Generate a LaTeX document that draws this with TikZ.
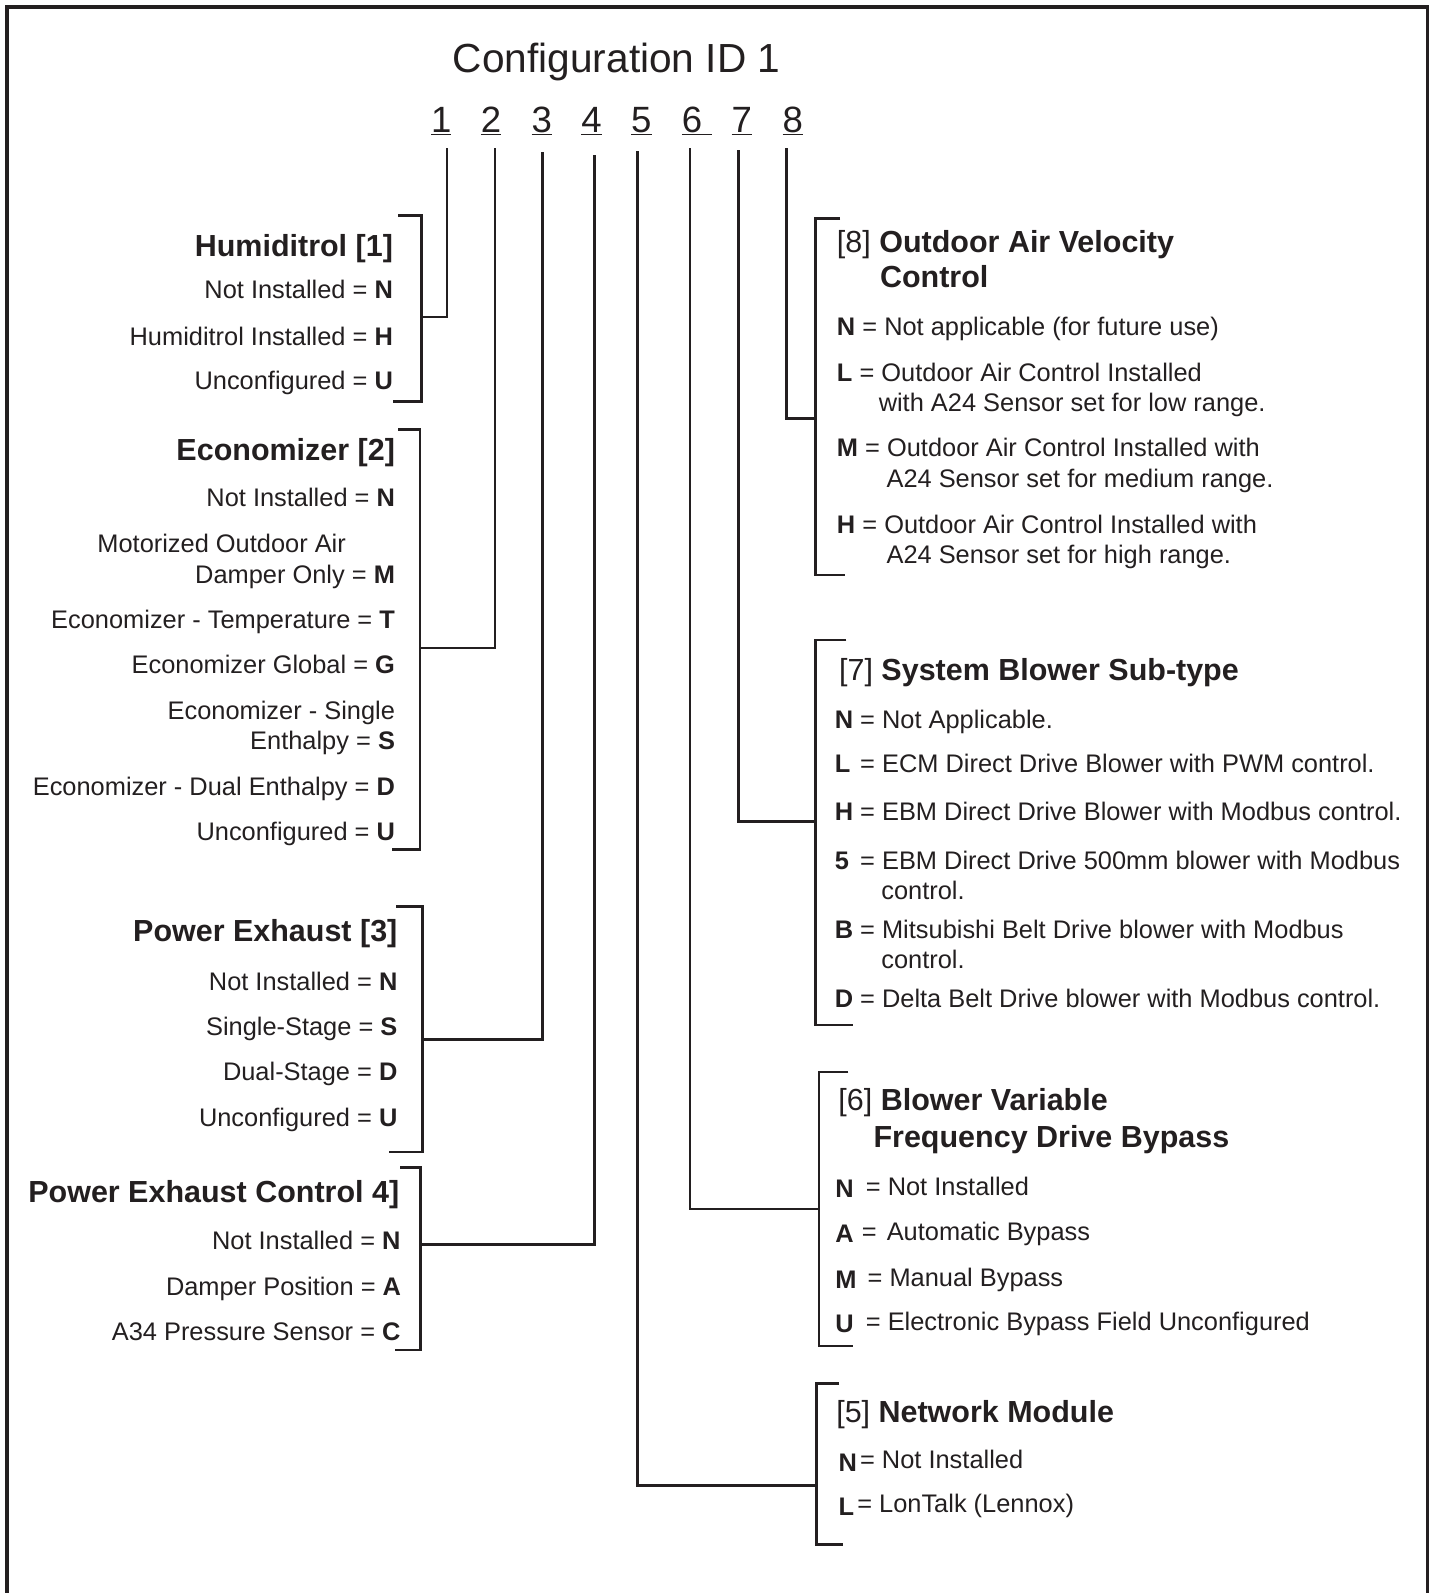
\documentclass[tikz,border=0pt]{standalone}
\usepackage{fontspec}
\setmainfont{Liberation Sans}
\definecolor{ink}{RGB}{35,31,32}
\newcommand{\optkey}[1]{\makebox[18pt][l]{\textbf{#1}}}
\begin{document}
\begin{tikzpicture}[x=1pt,y=-1pt,line width=2.5pt,color=ink,
	opt/.style={font=\fontsize{25}{30}\selectfont,inner sep=0pt,text=ink},
	optl/.style={opt,anchor=base east},
	optr/.style={opt,anchor=base west},
	grp/.style={font=\fontsize{30}{36}\selectfont\bfseries,inner sep=0pt,text=ink},
	grpl/.style={grp,anchor=base east},
	grpr/.style={grp,anchor=base west},
	digit/.style={font=\fontsize{36}{40}\selectfont,inner sep=0pt,anchor=base west,text=ink}]
				\useasboundingbox (0,0) rectangle (1410,1568);
				\draw[line width=3.5pt] (7,1568)--(7,7)--(1405,7)--(1405,1568);
				\node[digit,font=\fontsize{40}{44}\selectfont] (title) at (444.5,71.5) {Configuration ID 1};
				% digit positions
				\node[digit] (d1) at (423,130.6) {\underline{1}};
				\node[digit] (d2) at (472,130.6) {\underline{2}};
				\node[digit] (d3) at (522,130.6) {\underline{3}};
				\node[digit] (d4) at (571,130.6) {\underline{4}};
				\node[digit] (d5) at (620,130.6) {\underline{5}};
				\node[digit] (d6) at (670,130.6) {\underline{6\hspace{10pt}}};
				\node[digit] (d7) at (719,130.6) {\underline{7}};
				\node[digit] (d8) at (769,130.6) {\underline{8}};
				\coordinate (t1) at (440,146);
				\coordinate (t2) at (487,146);
				\coordinate (t3) at (534,150);
				\coordinate (t4) at (585,153);
				\coordinate (t5) at (627.5,149);
				\coordinate (t6) at (679,146);
				\coordinate (t7) at (727,148);
				\coordinate (t8) at (774,146);
				% bracket joints
				\coordinate (j1) at (415,312);
				\coordinate (j2) at (413.5,638);
				\coordinate (j3) at (416,1023);
				\coordinate (j4) at (413.7,1225);
				\coordinate (j5) at (803.5,1462);
				\coordinate (j6) at (806,1190);
				\coordinate (j7) at (802.6,808.4);
				\coordinate (j8) at (802.5,411.7);
				\draw (t1)|-(j1);
				\draw (t2)|-(j2);
				\draw (t3)|-(j3);
				\draw (t4)|-(j4);
				\draw (t5)|-(j5);
				\draw (t6)|-(j6);
				\draw (t7)|-(j7);
				\draw (t8)|-(j8);
				% brackets
				\draw (392,212)--(415,212)--(415,395)--(387,395);
				\draw (392,423)--(413.5,423)--(413.5,836)--(386,836);
				\draw (390,892)--(416,892)--(416,1134)--(383,1134);
				\draw (394,1149)--(413.7,1149)--(413.7,1329)--(389,1329);
				\draw (827,215)--(802.5,215)--(802.5,566)--(832,566);
				\draw (833,630)--(802.6,630)--(802.6,1009)--(839.6,1009);
				\draw (835,1055)--(806,1055)--(806,1325)--(840,1325);
				\draw (826,1362)--(803.5,1362)--(803.5,1520)--(830,1520);
				% [1]
				\node[grpl] (hum) at (388,252.7) {Humiditrol [1]};
				\node[optl] (humN) at (388,293.7) {Not Installed = \textbf{N}};
				\node[optl] (humH) at (388,339.7) {Humiditrol Installed = \textbf{H}};
				\node[optl] (humU) at (388,383.3) {Unconfigured = \textbf{U}};
				% [2]
				\node[grpl] (eco) at (390,453.6) {Economizer [2]};
				\node[optl] (ecoN) at (390,498.9) {Not Installed = \textbf{N}};
				\node[optl] (ecoM1) at (341.7,544.2) {Motorized Outdoor Air};
				\node[optl] (ecoM) at (390,574.4) {Damper Only = \textbf{M}};
				\node[optl] (ecoT) at (390,618.7) {Economizer - Temperature = \textbf{T}};
				\node[optl] (ecoG) at (390,663) {Economizer Global = \textbf{G}};
				\node[optl] (ecoS1) at (390,708.3) {Economizer - Single};
				\node[optl] (ecoS) at (390,737.8) {Enthalpy = \textbf{S}};
				\node[optl] (ecoD) at (390,782.8) {Economizer - Dual Enthalpy = \textbf{D}};
				\node[optl] (ecoU) at (390,827.1) {Unconfigured = \textbf{U}};
				% [3]
				\node[grpl] (pex) at (392.4,927.2) {Power Exhaust [3]};
				\node[optl] (pexN) at (392.4,974.8) {Not Installed = \textbf{N}};
				\node[optl] (pexS) at (392.4,1019.1) {Single-Stage = \textbf{S}};
				\node[optl] (pexD) at (392.4,1063.4) {Dual-Stage = \textbf{D}};
				\node[optl] (pexU) at (392.4,1108.7) {Unconfigured = \textbf{U}};
				% [4]
				\node[grpl] (pec) at (394.2,1183.2) {Power Exhaust Control 4]};
				\node[optl] (pecN) at (395.5,1230.1) {Not Installed = \textbf{N}};
				\node[optl] (pecA) at (396,1275.1) {Damper Position = \textbf{A}};
				\node[optl] (pecC) at (395.5,1319.4) {A34 Pressure Sensor = \textbf{C}};
				% [8]
				\node[grpr] (oav) at (822.6,248.8) {\mdseries[8] \bfseries Outdoor Air Velocity};
				\node[grpr] (oav2) at (865,282.9) {Control};
				\node[optr] (oavN) at (822.6,329.9) {\textbf{N} = Not applicable (for future use)};
				\node[optr] (oavL) at (822.6,375.2) {\textbf{L} = Outdoor Air Control Installed};
				\node[optr] (oavL2) at (863.7,405.3) {with A24 Sensor set for low range.};
				\node[optr] (oavM) at (822.6,449.7) {\textbf{M} = Outdoor Air Control Installed with};
				\node[optr] (oavM2) at (871.4,479.8) {A24 Sensor set for medium range.};
				\node[optr] (oavH) at (822.6,525.1) {\textbf{H} = Outdoor Air Control Installed with};
				\node[optr] (oavH2) at (871.4,554.7) {A24 Sensor set for high range.};
				% [7]
				\node[grpr] (sbs) at (824.7,669.6) {\mdseries[7] \bfseries System Blower Sub-type};
				\node[optr] (sbsN) at (820.5,717.2) {\optkey{N} = Not Applicable.};
				\node[optr] (sbsL) at (820.5,760.8) {\optkey{L} = ECM Direct Drive Blower with PWM control.};
				\node[optr] (sbsH) at (820.5,807.4) {\optkey{H} = EBM Direct Drive Blower with Modbus control.};
				\node[optr] (sbs5) at (820.5,856) {\optkey{5} = EBM Direct Drive 500mm blower with Modbus};
				\node[optr] (sbs52) at (866.3,885.5) {control.};
				\node[optr] (sbsB) at (820.5,924) {\optkey{B} = Mitsubishi Belt Drive blower with Modbus};
				\node[optr] (sbsB2) at (866.3,953.5) {control.};
				\node[optr] (sbsD) at (820.5,991.2) {\optkey{D} = Delta Belt Drive blower with Modbus control.};
				% [6]
				\node[grpr] (vfd) at (824,1093) {\mdseries[6] \bfseries Blower Variable};
				\node[grpr] (vfd2) at (858.6,1129.7) {Frequency Drive Bypass};
				\node[optr] (vfdN) at (821,1176.7) {\raisebox{-2pt}{\textbf{N}}\hspace{12pt}= Not Installed};
				\node[optr] (vfdA) at (821,1221) {\raisebox{-2pt}{\textbf{A}}\hspace{8pt}=\hspace{10pt}Automatic Bypass};
				\node[optr] (vfdM) at (821,1266) {\raisebox{-2pt}{\textbf{M}}\hspace{11pt}= Manual Bypass};
				\node[optr] (vfdU) at (821,1309.6) {\raisebox{-2pt}{\textbf{U}}\hspace{12pt}= Electronic Bypass Field Unconfigured};
				% [5]
				\node[grpr] (net) at (821.9,1399.8) {\mdseries[5] \bfseries Network Module};
				\node[optr] (netN) at (824.3,1445.8) {\raisebox{-3pt}{\textbf{N}}\hspace{3pt}= Not Installed};
				\node[optr] (netL) at (824.3,1488.4) {\raisebox{-3pt}{\textbf{L}}\hspace{3pt}= LonTalk (Lennox)};
			\end{tikzpicture}
\end{document}
